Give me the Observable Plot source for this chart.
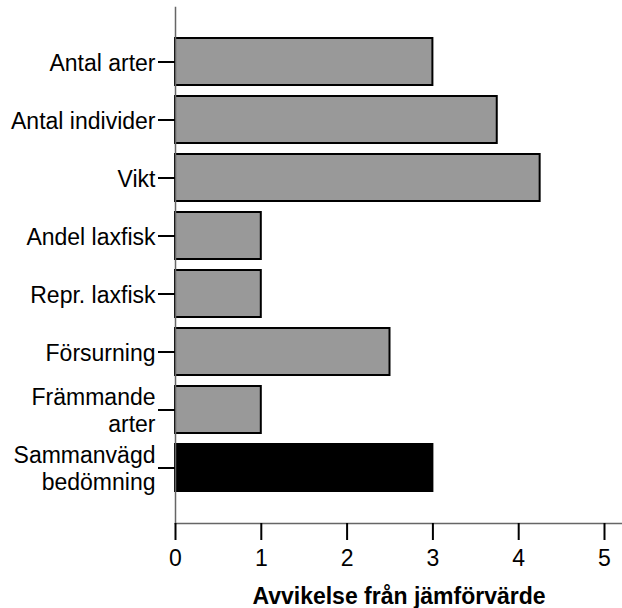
<!DOCTYPE html>
<html>
<head>
<meta charset="utf-8">
<script src="https://cdn.jsdelivr.net/npm/d3@7"></script>
<script src="https://cdn.jsdelivr.net/npm/@observablehq/plot@0.6"></script>
<style>
  html, body { margin: 0; padding: 0; background: #fff; }
  #chart svg { display: block; }
</style>
</head>
<body>
<div id="chart"></div>
<script>
const categories = [
  "Antal arter",
  "Antal individer",
  "Vikt",
  "Andel laxfisk",
  "Repr. laxfisk",
  "Försurning",
  "Främmande\narter",
  "Sammanvägd\nbedömning"
];
const values = [3.0, 3.75, 4.25, 1.0, 1.0, 2.5, 1.0, 3.0];
const kinds = ["part", "part", "part", "part", "part", "part", "part", "total"];
const xTicks = [0, 1, 2, 3, 4, 5];
const xLabel = "Avvikelse från jämförvärde";

const data = categories.map((c, i) => ({category: c, value: values[i], kind: kinds[i]}));

const font = "'Liberation Sans', Arial, Helvetica, sans-serif";

const chart = Plot.plot({
  width: 622,
  height: 608,
  marginTop: 7,
  marginBottom: 85,
  marginLeft: 175,
  marginRight: 0,
  style: {fontFamily: font, fontSize: "23px", color: "#000", background: "#fff"},
  x: {domain: [0, 5], range: [175, 604]},
  y: {domain: categories, range: [38, 491.5], paddingInner: 0.19, paddingOuter: 0},
  color: {domain: ["part", "total"], range: ["#999999", "#000000"]},
  marks: [
    Plot.barX(data, {
      x: "value",
      y: "category",
      fill: "kind",
      stroke: "#000",
      strokeWidth: 2
    }),
    Plot.frame({anchor: "left", stroke: "#666", strokeWidth: 1.5}),
    Plot.frame({anchor: "bottom", stroke: "#666", strokeWidth: 1.5}),
    Plot.axisY({
      tickSize: 17,
      tickPadding: 3,
      stroke: "#000",
      strokeWidth: 2,
      strokeOpacity: 1,
      fontSize: 23,
      lineHeight: 1.16,
      fill: "#000",
      label: null
    }),
    Plot.axisX({
      ticks: xTicks,
      tickFormat: d3.format("d"),
      tickSize: 17,
      tickPadding: 9,
      stroke: "#000",
      strokeWidth: 2,
      strokeOpacity: 1,
      fontSize: 23,
      fill: "#000",
      label: xLabel,
      labelAnchor: "center",
      labelArrow: "none",
      labelOffset: 80
    })
  ]
});

d3.select(chart).selectAll("text").filter(function() { return this.textContent === xLabel; })
  .attr("font-weight", "bold");

document.getElementById("chart").appendChild(chart);
</script>
</body>
</html>
